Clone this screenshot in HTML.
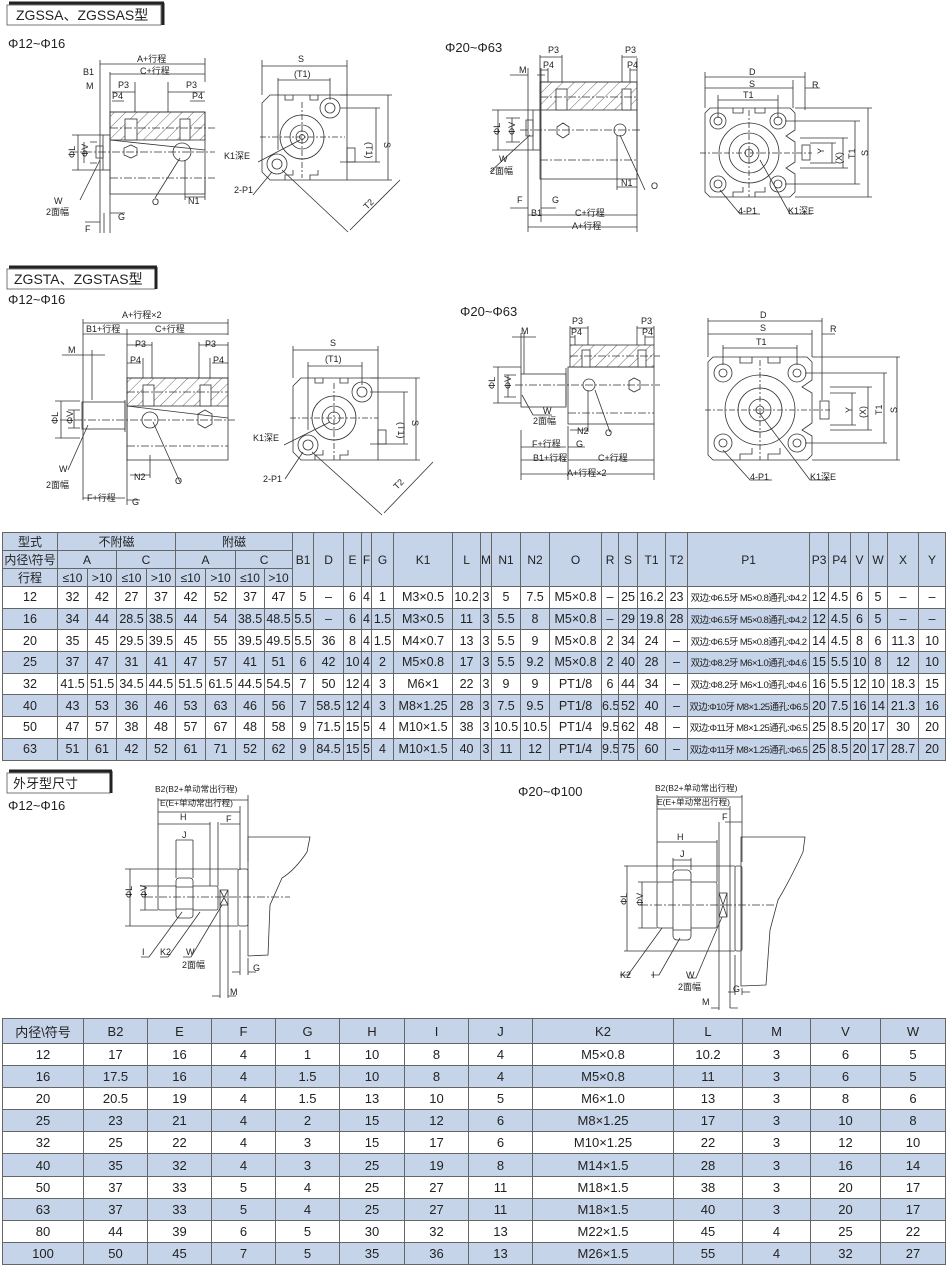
<!DOCTYPE html>
<html><head><meta charset="utf-8">
<style>
html,body{margin:0;padding:0;background:#fff;}
body{width:950px;height:1278px;position:relative;overflow:hidden;font-family:"Liberation Sans","Noto Sans CJK SC",sans-serif;}
svg{position:absolute;left:0;top:0;}
svg text{fill:#222;stroke:none;}
table{position:absolute;border-collapse:collapse;table-layout:fixed;font-family:"Liberation Sans","Noto Sans CJK SC",sans-serif;color:#222;}
td{border:1px solid #666;text-align:center;padding:0;white-space:nowrap;overflow:hidden;}
#t1{left:2px;top:532px;width:943px;font-size:12.5px;}
#t1 tr.h td{height:16px;background:#c6d4e9;font-size:12px;}
#t1 tr.d td{height:20.7px;}
#t1 tr.b td{background:#c6d4e9;}
#t1 td.p{font-size:9.5px;letter-spacing:-0.6px;}
#t2{left:2px;top:1018px;width:943px;font-size:13px;}
#t2 td{height:21.1px;}
#t2 tr.b td{background:#c6d4e9;}
#t2 tr.h td{height:24px;background:#c6d4e9;}
</style></head><body>
<svg width="950" height="1278" viewBox="0 0 950 1278" font-family="Liberation Sans, Noto Sans CJK SC, sans-serif" fill="none" stroke="#333" stroke-width="0.8">
<defs>
<pattern id="h" width="8" height="8" patternUnits="userSpaceOnUse" patternTransform="rotate(45)"><line x1="0" y1="0" x2="0" y2="8" stroke="#444" stroke-width="0.8"/></pattern>
</defs>
<!-- Section titles -->
<rect x="7" y="5" width="154" height="20" stroke="#555"/><path d="M163 3 V25 M9 3 H164" stroke="#222" stroke-width="3"/>
<text x="16" y="20" font-size="14">ZGSSA、ZGSSAS型</text>
<text x="8" y="48" font-size="13">Φ12~Φ16</text>
<text x="445" y="52" font-size="13">Φ20~Φ63</text>
<rect x="7" y="269" width="148" height="20" stroke="#555"/><path d="M156 267 V289 M9 267 H157" stroke="#222" stroke-width="3"/>
<text x="14" y="284" font-size="14">ZGSTA、ZGSTAS型</text>
<text x="8" y="304" font-size="13">Φ12~Φ16</text>
<text x="460" y="316" font-size="13">Φ20~Φ63</text>
<rect x="7" y="773" width="103" height="20" stroke="#555"/><path d="M111 771 V793 M9 771 H112" stroke="#222" stroke-width="3"/>
<text x="13" y="788" font-size="13">外牙型尺寸</text>
<text x="8" y="810" font-size="13">Φ12~Φ16</text>
<text x="518" y="796" font-size="13">Φ20~Φ100</text>

<g font-size="9">
<!-- D1: ZGSSA 12-16 side -->
<rect x="110" y="112" width="95" height="82"/>
<rect x="110" y="112" width="95" height="28" fill="url(#h)"/>
<rect x="125" y="119" width="12" height="21" fill="#fff"/><rect x="180" y="119" width="10" height="21" fill="#fff"/>
<path d="M110 140 L205 150" />
<rect x="103" y="135" width="7" height="35"/>
<path d="M96 146 h7 v12 h-7z"/>
<path d="M70 152 H215 M110 178 H215 M110 128 H215" stroke-dasharray="8 2 2 2"/>
<polygon points="124,148 131,145 137,148 137,155 131,158 124,155"/>
<circle cx="182" cy="152" r="9"/>
<path d="M100 60 V233 M110 72 V233 M205 58 V82 M100 64 H205 M110 74 H205 M110 80 V115 M135 82 V112 M112 92 H135 M112 101 H124 M168 82 V112 M205 92 H168 M205 101 H190"/>
<path d="M72 135 H103 M72 170 H103 M78 135 V170 M84 142 V163 M90 142 H97 M90 163 H97"/>
<path d="M80 200 L100 160 M155 198 L180 158 M185 160 V200 M205 180 V200 M185 197 H205 M100 222 H85 M110 213 H125 M104 213 V233"/>
<text x="137" y="62">A+行程</text><text x="140" y="74">C+行程</text>
<text x="83" y="75">B1</text><text x="86" y="89">M</text>
<text x="118" y="88">P3</text><text x="112" y="99">P4</text>
<text x="186" y="88">P3</text><text x="192" y="99">P4</text>
<text x="75" y="158" transform="rotate(-90 75 158)">ΦL</text><text x="88" y="157" transform="rotate(-90 88 157)">ΦV</text>
<text x="54" y="204">W</text><text x="46" y="215">2面幅</text>
<text x="152" y="205">O</text><text x="188" y="204">N1</text>
<text x="85" y="232">F</text><text x="118" y="220">G</text>

<!-- D2: end view 12-16 -->
<path d="M270 95 H347 V180 H270 L262 172 V103 Z"/>
<path d="M285 95 v5 h8 v-5 M310 95 v5 h8 v-5 M285 180 v-5 h8 v-5 M310 180 v-5 h8 v-5"/>
<circle cx="302" cy="137" r="22"/><circle cx="302" cy="137" r="12"/><circle cx="302" cy="137" r="6"/><circle cx="302" cy="137" r="2.5"/>
<circle cx="330" cy="108" r="10"/><circle cx="330" cy="108" r="5"/><circle cx="277" cy="164" r="10"/><circle cx="277" cy="164" r="5"/>
<rect x="347" y="148" width="8" height="14"/>
<path d="M262 60 V95 M347 60 V95 M262 66 H347 M278 78 V150 M330 78 V100 M278 80 H330 M340 95 H392 M340 108 H380 M340 162 H380 M347 180 H392 M388 95 V180 M376 108 V162 M282 170 L348 232 M400 180 L350 230"/>
<path d="M260 137 H345 M302 102 V178" stroke-dasharray="6 2 2 2"/>
<text x="298" y="62">S</text><text x="294" y="77">(T1)</text>
<text x="366" y="142" transform="rotate(90 366 142)">(T1)</text><text x="384" y="142" transform="rotate(90 384 142)">S</text>
<text x="367" y="210" transform="rotate(-45 367 210)">T2</text>
<text x="224" y="159">K1深E</text><text x="234" y="193">2-P1</text>
<path d="M258 162 L300 140 M253 195 L272 172"/>

<!-- D3: 20-63 side -->
<rect x="540" y="82" width="97" height="97"/>
<rect x="540" y="82" width="97" height="28" fill="url(#h)"/>
<rect x="556" y="89" width="11" height="21" fill="#fff"/><rect x="622" y="89" width="9" height="21" fill="#fff"/>
<rect x="533" y="110" width="7" height="40"/><path d="M526 120 h7 v16 h-7z"/>
<polygon points="557,127 563,123 569,127 569,134 563,138 557,134"/><circle cx="620" cy="130" r="6"/>
<path d="M520 130 H640 M540 160 H637 M540 97 H637" stroke-dasharray="8 2 2 2"/>
<path d="M528 68 V232 M541 68 V222 M637 58 V232 M540 55 V82 M562 55 V82 M540 57 H562 M548 68 V82 M540 70 H548 M622 55 V82 M637 57 H622 M630 68 V82 M637 70 H630 M510 75 H528 M537 75 H545"/>
<path d="M492 110 H533 M492 150 H533 M498 110 V150 M512 118 V142 M506 118 H520 M506 142 H520 M490 172 L530 135 M617 135 V190 M617 187 H637 M645 190 L620 135"/>
<path d="M510 208 H528 M541 208 H556 M528 215 H637 M528 227 H637"/>
<text x="548" y="53">P3</text><text x="543" y="68">P4</text>
<text x="625" y="53">P3</text><text x="627" y="68">P4</text>
<text x="519" y="73">M</text>
<text x="500" y="135" transform="rotate(-90 500 135)">ΦL</text><text x="515" y="135" transform="rotate(-90 515 135)">ΦV</text>
<text x="499" y="162">W</text><text x="490" y="174">2面幅</text>
<text x="621" y="186">N1</text><text x="651" y="189">O</text>
<text x="517" y="203">F</text><text x="552" y="203">G</text>
<text x="531" y="216">B1</text><text x="575" y="216">C+行程</text><text x="572" y="229">A+行程</text>

<!-- D4: end view 20-63 -->
<path d="M710 108 H790 L795 113 V130 L786 136 L795 142 V162 L786 168 L795 174 V192 L790 197 H710 L705 192 V113 Z"/>
<path d="M733 108 v5 h10 v-5 M755 108 v5 h10 v-5 M733 197 v-5 h10 v-5 M755 197 v-5 h10 v-5"/>
<circle cx="749" cy="153" r="30"/><circle cx="749" cy="153" r="20"/><circle cx="749" cy="153" r="10"/><circle cx="749" cy="153" r="4"/>
<circle cx="718" cy="121" r="8"/><circle cx="718" cy="121" r="4"/><circle cx="778" cy="121" r="8"/><circle cx="778" cy="121" r="4"/>
<circle cx="718" cy="184" r="8"/><circle cx="718" cy="184" r="4"/><circle cx="778" cy="184" r="8"/><circle cx="778" cy="184" r="4"/>
<rect x="802" y="145" width="8" height="15"/>
<path d="M705 72 V108 M805 72 V110 M793 80 V108 M705 77 H805 M705 88 H793 M718 95 V118 M778 95 V118 M718 100 H778 M805 88 H820 M795 108 H872 M785 121 H860 M785 184 H860 M795 197 H872 M868 108 V197 M855 121 V184 M800 138 H848 M800 168 H848 M843 138 V168 M810 143 H836 M810 163 H836 M832 143 V163"/>
<path d="M700 153 H812 M749 110 V197" stroke-dasharray="6 2 2 2"/>
<path d="M720 190 L740 214 H760 M760 160 L790 214 H812"/>
<text x="749" y="75">D</text><text x="749" y="87">S</text><text x="743" y="98">T1</text><text x="812" y="88">R</text>
<text x="820" y="150" transform="rotate(-90 824 150)">Y</text>
<text x="836" y="162" transform="rotate(-90 840 160)">(X)</text>
<text x="850" y="158" transform="rotate(-90 853 156)">T1</text>
<text x="864" y="156" transform="rotate(-90 866 154)">S</text>
<text x="738" y="214">4-P1</text><text x="788" y="214">K1深E</text>

<!-- D5: ZGSTA 12-16 -->
<rect x="127" y="378" width="101" height="82"/>
<rect x="127" y="378" width="101" height="28" fill="url(#h)"/>
<rect x="143" y="385" width="11" height="21" fill="#fff"/><rect x="200" y="385" width="11" height="21" fill="#fff"/>
<path d="M127 406 L228 418"/>
<rect x="82" y="402" width="43" height="27"/><path d="M125 400 V432"/>
<circle cx="150" cy="420" r="8"/><polygon points="198,414 205,410 212,414 212,424 205,428 198,424"/>
<path d="M60 420 H235 M127 446 H228 M127 392 H228" stroke-dasharray="8 2 2 2"/>
<path d="M83 319 V500 M127 329 V505 M228 319 V335 M83 323 H228 M83 334 H228 M127 345 H152 M152 342 V378 M199 342 V378 M199 345 H228 M127 363 H141 M143 358 V378 M210 358 V378 M228 363 H212 M228 342 V378 M62 355 H105 M92 350 V400"/>
<path d="M55 401 H80 M55 438 H80 M61 401 V438 M74 410 V428 M68 410 H80 M68 428 H80 M68 470 L88 425 M150 455 V478 M130 475 H150 M180 482 L153 422 M83 498 H125 M127 500 H140"/>
<text x="122" y="318">A+行程×2</text><text x="86" y="332">B1+行程</text><text x="155" y="332">C+行程</text>
<text x="135" y="347">P3</text><text x="205" y="347">P3</text><text x="130" y="363">P4</text><text x="213" y="363">P4</text>
<text x="68" y="353">M</text>
<text x="58" y="424" transform="rotate(-90 58 424)">ΦL</text><text x="73" y="424" transform="rotate(-90 73 424)">ΦV</text>
<text x="59" y="472">W</text><text x="46" y="488">2面幅</text>
<text x="134" y="480">N2</text><text x="175" y="484">O</text>
<text x="87" y="501">F+行程</text><text x="132" y="505">G</text>

<!-- D6: end view ZGSTA 12-16 -->
<path d="M301 378 H378 V460 H301 L293 452 V386 Z"/>
<path d="M315 378 v5 h8 v-5 M340 378 v5 h8 v-5 M315 460 v-5 h8 v-5 M340 460 v-5 h8 v-5"/>
<circle cx="334" cy="418" r="22"/><circle cx="334" cy="418" r="12"/><circle cx="334" cy="418" r="6"/>
<circle cx="362" cy="392" r="10"/><circle cx="362" cy="392" r="5"/><circle cx="308" cy="445" r="10"/><circle cx="308" cy="445" r="5"/>
<rect x="378" y="430" width="8" height="14"/>
<path d="M293 346 V378 M378 346 V378 M293 350 H378 M308 362 V430 M362 362 V385 M308 366 H362 M370 378 H420 M370 392 H408 M370 444 H408 M378 460 H420 M416 378 V460 M404 392 V444 M312 452 L382 515 M433 462 L384 513"/>
<path d="M290 418 H378 M334 383 V460" stroke-dasharray="6 2 2 2"/>
<text x="330" y="346">S</text><text x="325" y="362">(T1)</text>
<text x="398" y="422" transform="rotate(90 398 422)">(T1)</text><text x="412" y="420" transform="rotate(90 412 420)">S</text>
<text x="397" y="490" transform="rotate(-45 397 490)">T2</text>
<text x="253" y="441">K1深E</text><text x="263" y="482">2-P1</text>
<path d="M284 445 L330 422 M285 479 L303 452"/>

<!-- D7: ZGSTA 20-63 -->
<rect x="568" y="367" width="86" height="57"/>
<rect x="570" y="345" width="84" height="22" fill="url(#h)"/>
<rect x="582" y="350" width="8" height="17" fill="#fff"/><rect x="638" y="350" width="8" height="17" fill="#fff"/>
<rect x="521" y="374" width="45" height="33"/><path d="M566 368 V405"/>
<circle cx="589" cy="385" r="6"/><polygon points="629,381 634,378 640,381 640,389 634,392 629,389"/>
<path d="M515 385 H660 M568 413 H654 M570 356 H660" stroke-dasharray="8 2 2 2"/>
<path d="M570 326 V345 M588 326 V345 M570 328 H588 M575 335 V345 M570 337 H575 M637 326 V345 M654 326 V345 M637 328 H654 M645 335 V345 M654 337 H645 M512 337 H536 M521 333 V374 M524 333 V374"/>
<path d="M493 367 H521 M493 403 H521 M498 367 V403 M508 375 V397 M504 375 H516 M504 397 H516 M522 395 L533 415 H552 M588 390 V432 M570 430 H588 M595 390 L610 432"/>
<path d="M521 430 V480 M568 426 V480 M654 424 V480 M521 447 H566 M521 460 H566 M568 460 H654 M521 474 H654 M568 447 H585"/>
<text x="572" y="324">P3</text><text x="641" y="324">P3</text><text x="571" y="335">P4</text><text x="642" y="335">P4</text>
<text x="521" y="334">M</text>
<text x="495" y="389" transform="rotate(-90 495 389)">ΦL</text><text x="511" y="389" transform="rotate(-90 511 389)">ΦV</text>
<text x="543" y="414">W</text><text x="533" y="424">2面幅</text>
<text x="577" y="434">N2</text><text x="605" y="436">O</text>
<text x="532" y="447">F+行程</text><text x="576" y="447">G</text>
<text x="533" y="461">B1+行程</text><text x="598" y="461">C+行程</text><text x="567" y="476">A+行程×2</text>

<!-- D8: end view 20-63 ZGSTA -->
<path d="M713 357 H807 L812 362 V380 L802 387 L812 393 V423 L802 430 L812 436 V455 L807 460 H713 L708 455 V362 Z"/>
<path d="M740 357 v6 h12 v-6 M768 357 v6 h12 v-6 M740 460 v-6 h12 v-6 M768 460 v-6 h12 v-6"/>
<circle cx="760" cy="410" r="35"/><circle cx="760" cy="410" r="22"/><circle cx="760" cy="410" r="11"/><circle cx="760" cy="410" r="4"/>
<circle cx="723" cy="373" r="9"/><circle cx="723" cy="373" r="4"/><circle cx="797" cy="373" r="9"/><circle cx="797" cy="373" r="4"/>
<circle cx="723" cy="443" r="9"/><circle cx="723" cy="443" r="4"/><circle cx="797" cy="443" r="9"/><circle cx="797" cy="443" r="4"/>
<rect x="820" y="401" width="9" height="18"/>
<path d="M708 318 V357 M822 318 V400 M812 330 V357 M708 321 H822 M708 334 H812 M723 345 V365 M797 345 V365 M723 348 H797 M822 334 H835 M812 357 H900 M805 373 H887 M805 443 H887 M812 460 H900 M897 357 V460 M884 373 V443 M830 387 H872 M830 430 H872 M868 387 V430 M830 393 H856 M830 425 H856 M852 393 V425"/>
<path d="M705 410 H830 M760 360 V460" stroke-dasharray="6 2 2 2"/>
<path d="M723 450 L750 480 H772 M760 414 L810 480 H830"/>
<text x="760" y="318">D</text><text x="760" y="331">S</text><text x="756" y="345">T1</text><text x="830" y="332">R</text>
<text x="848" y="413" transform="rotate(-90 850 411)">Y</text>
<text x="862" y="418" transform="rotate(-90 864 416)">(X)</text>
<text x="878" y="415" transform="rotate(-90 880 413)">T1</text>
<text x="893" y="413" transform="rotate(-90 895 411)">S</text>
<text x="750" y="480">4-P1</text><text x="810" y="480">K1深E</text>

<!-- D9: external thread 12-16 -->
<path d="M248 837 H310 L307 852 Q295 870 282 878 L270 905 L268 955 L248 956 Z"/>
<rect x="238" y="869" width="10" height="57" rx="2"/>
<path d="M125 869 H238 M125 926 H238"/>
<rect x="158" y="886" width="60" height="24" rx="2"/>
<rect x="176" y="878" width="17" height="40" rx="3" fill="#fff"/>
<path d="M176 887 H193 M176 909 H193 M176 840 V878 M193 840 V878"/>
<rect x="220" y="890" width="8" height="15"/><path d="M220 890 L228 905 M228 890 L220 905"/>
<path d="M145 897 H290" stroke-dasharray="8 2 2 2"/>
<path d="M158 798 V886 M248 795 V862 M240 806 V870 M158 800 H248 M158 812 H240 M210 822 V886 M158 824 H210 M218 822 V886 M220 824 H240 M176 840 H193 M130 869 V926 M145 886 V910 M140 886 H158 M140 910 H158 M220 905 V998 M228 905 V998 M212 996 H220 M228 996 H236 M240 930 V975 M248 958 V975 M232 972 H240 M248 972 H256"/>
<path d="M141 957 H149 L182 912 M160 957 H168 L200 912 M183 957 H191 L222 905"/>
<text x="155" y="792" font-size="8.5">B2(B2+单动常出行程)</text>
<text x="160" y="806" font-size="8.5">E(E+单动常出行程)</text>
<text x="180" y="820">H</text><text x="182" y="838">J</text><text x="226" y="822">F</text>
<text x="127" y="903" transform="rotate(-90 127 898)">ΦL</text><text x="142" y="903" transform="rotate(-90 142 898)">ΦV</text>
<text x="142" y="955">I</text><text x="160" y="955">K2</text><text x="186" y="955">W</text><text x="182" y="968">2面幅</text>
<text x="253" y="971">G</text><text x="230" y="995">M</text>

<!-- D10: external thread 20-100 -->
<path d="M741 837 H805 L803 852 Q790 880 778 900 L770 930 L766 985 L741 986 Z"/>
<rect x="735" y="866" width="7" height="85" rx="2"/>
<path d="M624 866 H735 M624 951 H735"/>
<rect x="657" y="882" width="60" height="46" rx="2"/>
<rect x="673" y="870" width="18" height="70" rx="4" fill="#fff"/>
<path d="M673 880 H691 M673 930 H691"/>
<rect x="719" y="893" width="8" height="24"/><path d="M719 893 L727 917 M727 893 L719 917"/>
<path d="M640 905 H775" stroke-dasharray="8 2 2 2"/>
<path d="M657 795 V882 M742 795 V862 M730 806 V1008 M657 797 H742 M657 809 H730 M717 840 V882 M657 842 H717 M673 858 V870 M691 858 V870 M673 860 H691 M719 822 V1010 M627 866 V951 M642 882 V928 M638 882 H657 M638 928 H657 M735 955 V995 M742 988 V995 M728 992 H735 M742 992 H750 M711 1008 H719 M730 1008 H738 M725 822 H742"/>
<path d="M620 975 H628 L662 928 M651 975 H659 L680 938 M688 978 H696 L722 917"/>
<text x="655" y="791" font-size="8.5">B2(B2+单动常出行程)</text>
<text x="657" y="805" font-size="8.5">E(E+单动常出行程)</text>
<text x="677" y="840">H</text><text x="680" y="857">J</text><text x="722" y="820">F</text>
<text x="625" y="913" transform="rotate(-90 622 908)">ΦL</text><text x="640" y="913" transform="rotate(-90 638 908)">ΦV</text>
<text x="620" y="978">K2</text><text x="652" y="978">I</text><text x="686" y="978">W</text><text x="678" y="990">2面幅</text>
<text x="733" y="992">G</text><text x="702" y="1005">M</text>
</g>
</svg>

<table id="t1">
<colgroup>
<col style="width:55px"><col style="width:30px"><col style="width:29px"><col style="width:30px"><col style="width:29px"><col style="width:30px"><col style="width:30px"><col style="width:29px"><col style="width:28px">
<col style="width:21px"><col style="width:30px"><col style="width:18px"><col style="width:10px"><col style="width:22px"><col style="width:59px"><col style="width:28px"><col style="width:11px"><col style="width:29px"><col style="width:29px"><col style="width:52px"><col style="width:17px"><col style="width:19px"><col style="width:28px"><col style="width:22px"><col style="width:122px"><col style="width:19px"><col style="width:22px"><col style="width:18px"><col style="width:19px"><col style="width:31px"><col style="width:27px">
</colgroup>
<tr class="h"><td>型式</td><td colspan="4">不附磁</td><td colspan="4">附磁</td><td rowspan="3">B1</td><td rowspan="3">D</td><td rowspan="3">E</td><td rowspan="3">F</td><td rowspan="3">G</td><td rowspan="3">K1</td><td rowspan="3">L</td><td rowspan="3">M</td><td rowspan="3">N1</td><td rowspan="3">N2</td><td rowspan="3">O</td><td rowspan="3">R</td><td rowspan="3">S</td><td rowspan="3">T1</td><td rowspan="3">T2</td><td rowspan="3">P1</td><td rowspan="3">P3</td><td rowspan="3">P4</td><td rowspan="3">V</td><td rowspan="3">W</td><td rowspan="3">X</td><td rowspan="3">Y</td></tr>
<tr class="h"><td>内径\符号</td><td colspan="2">A</td><td colspan="2">C</td><td colspan="2">A</td><td colspan="2">C</td></tr>
<tr class="h"><td>行程</td><td>≤10</td><td>&gt;10</td><td>≤10</td><td>&gt;10</td><td>≤10</td><td>&gt;10</td><td>≤10</td><td>&gt;10</td></tr>
<tr class="d"><td>12</td><td>32</td><td>42</td><td>27</td><td>37</td><td>42</td><td>52</td><td>37</td><td>47</td><td>5</td><td>–</td><td>6</td><td>4</td><td>1</td><td>M3×0.5</td><td>10.2</td><td>3</td><td>5</td><td>7.5</td><td>M5×0.8</td><td>–</td><td>25</td><td>16.2</td><td>23</td><td class="p">双边:Φ6.5牙 M5×0.8通孔:Φ4.2</td><td>12</td><td>4.5</td><td>6</td><td>5</td><td>–</td><td>–</td></tr>
<tr class="d b"><td>16</td><td>34</td><td>44</td><td>28.5</td><td>38.5</td><td>44</td><td>54</td><td>38.5</td><td>48.5</td><td>5.5</td><td>–</td><td>6</td><td>4</td><td>1.5</td><td>M3×0.5</td><td>11</td><td>3</td><td>5.5</td><td>8</td><td>M5×0.8</td><td>–</td><td>29</td><td>19.8</td><td>28</td><td class="p">双边:Φ6.5牙 M5×0.8通孔:Φ4.2</td><td>12</td><td>4.5</td><td>6</td><td>5</td><td>–</td><td>–</td></tr>
<tr class="d"><td>20</td><td>35</td><td>45</td><td>29.5</td><td>39.5</td><td>45</td><td>55</td><td>39.5</td><td>49.5</td><td>5.5</td><td>36</td><td>8</td><td>4</td><td>1.5</td><td>M4×0.7</td><td>13</td><td>3</td><td>5.5</td><td>9</td><td>M5×0.8</td><td>2</td><td>34</td><td>24</td><td>–</td><td class="p">双边:Φ6.5牙 M5×0.8通孔:Φ4.2</td><td>14</td><td>4.5</td><td>8</td><td>6</td><td>11.3</td><td>10</td></tr>
<tr class="d b"><td>25</td><td>37</td><td>47</td><td>31</td><td>41</td><td>47</td><td>57</td><td>41</td><td>51</td><td>6</td><td>42</td><td>10</td><td>4</td><td>2</td><td>M5×0.8</td><td>17</td><td>3</td><td>5.5</td><td>9.2</td><td>M5×0.8</td><td>2</td><td>40</td><td>28</td><td>–</td><td class="p">双边:Φ8.2牙 M6×1.0通孔:Φ4.6</td><td>15</td><td>5.5</td><td>10</td><td>8</td><td>12</td><td>10</td></tr>
<tr class="d"><td>32</td><td>41.5</td><td>51.5</td><td>34.5</td><td>44.5</td><td>51.5</td><td>61.5</td><td>44.5</td><td>54.5</td><td>7</td><td>50</td><td>12</td><td>4</td><td>3</td><td>M6×1</td><td>22</td><td>3</td><td>9</td><td>9</td><td>PT1/8</td><td>6</td><td>44</td><td>34</td><td>–</td><td class="p">双边:Φ8.2牙 M6×1.0通孔:Φ4.6</td><td>16</td><td>5.5</td><td>12</td><td>10</td><td>18.3</td><td>15</td></tr>
<tr class="d b"><td>40</td><td>43</td><td>53</td><td>36</td><td>46</td><td>53</td><td>63</td><td>46</td><td>56</td><td>7</td><td>58.5</td><td>12</td><td>4</td><td>3</td><td>M8×1.25</td><td>28</td><td>3</td><td>7.5</td><td>9.5</td><td>PT1/8</td><td>6.5</td><td>52</td><td>40</td><td>–</td><td class="p">双边:Φ10牙 M8×1.25通孔:Φ6.5</td><td>20</td><td>7.5</td><td>16</td><td>14</td><td>21.3</td><td>16</td></tr>
<tr class="d"><td>50</td><td>47</td><td>57</td><td>38</td><td>48</td><td>57</td><td>67</td><td>48</td><td>58</td><td>9</td><td>71.5</td><td>15</td><td>5</td><td>4</td><td>M10×1.5</td><td>38</td><td>3</td><td>10.5</td><td>10.5</td><td>PT1/4</td><td>9.5</td><td>62</td><td>48</td><td>–</td><td class="p">双边:Φ11牙 M8×1.25通孔:Φ6.5</td><td>25</td><td>8.5</td><td>20</td><td>17</td><td>30</td><td>20</td></tr>
<tr class="d b"><td>63</td><td>51</td><td>61</td><td>42</td><td>52</td><td>61</td><td>71</td><td>52</td><td>62</td><td>9</td><td>84.5</td><td>15</td><td>5</td><td>4</td><td>M10×1.5</td><td>40</td><td>3</td><td>11</td><td>12</td><td>PT1/4</td><td>9.5</td><td>75</td><td>60</td><td>–</td><td class="p">双边:Φ11牙 M8×1.25通孔:Φ6.5</td><td>25</td><td>8.5</td><td>20</td><td>17</td><td>28.7</td><td>20</td></tr>
</table>

<table id="t2">
<colgroup><col style="width:81px"><col style="width:64px"><col style="width:64px"><col style="width:64px"><col style="width:64px"><col style="width:65px"><col style="width:64px"><col style="width:64px"><col style="width:141px"><col style="width:69px"><col style="width:68px"><col style="width:70px"><col style="width:65px"></colgroup>
<tr class="h"><td>内径\符号</td><td>B2</td><td>E</td><td>F</td><td>G</td><td>H</td><td>I</td><td>J</td><td>K2</td><td>L</td><td>M</td><td>V</td><td>W</td></tr>
<tr><td>12</td><td>17</td><td>16</td><td>4</td><td>1</td><td>10</td><td>8</td><td>4</td><td>M5×0.8</td><td>10.2</td><td>3</td><td>6</td><td>5</td></tr>
<tr class="b"><td>16</td><td>17.5</td><td>16</td><td>4</td><td>1.5</td><td>10</td><td>8</td><td>4</td><td>M5×0.8</td><td>11</td><td>3</td><td>6</td><td>5</td></tr>
<tr><td>20</td><td>20.5</td><td>19</td><td>4</td><td>1.5</td><td>13</td><td>10</td><td>5</td><td>M6×1.0</td><td>13</td><td>3</td><td>8</td><td>6</td></tr>
<tr class="b"><td>25</td><td>23</td><td>21</td><td>4</td><td>2</td><td>15</td><td>12</td><td>6</td><td>M8×1.25</td><td>17</td><td>3</td><td>10</td><td>8</td></tr>
<tr><td>32</td><td>25</td><td>22</td><td>4</td><td>3</td><td>15</td><td>17</td><td>6</td><td>M10×1.25</td><td>22</td><td>3</td><td>12</td><td>10</td></tr>
<tr class="b"><td>40</td><td>35</td><td>32</td><td>4</td><td>3</td><td>25</td><td>19</td><td>8</td><td>M14×1.5</td><td>28</td><td>3</td><td>16</td><td>14</td></tr>
<tr><td>50</td><td>37</td><td>33</td><td>5</td><td>4</td><td>25</td><td>27</td><td>11</td><td>M18×1.5</td><td>38</td><td>3</td><td>20</td><td>17</td></tr>
<tr class="b"><td>63</td><td>37</td><td>33</td><td>5</td><td>4</td><td>25</td><td>27</td><td>11</td><td>M18×1.5</td><td>40</td><td>3</td><td>20</td><td>17</td></tr>
<tr><td>80</td><td>44</td><td>39</td><td>6</td><td>5</td><td>30</td><td>32</td><td>13</td><td>M22×1.5</td><td>45</td><td>4</td><td>25</td><td>22</td></tr>
<tr class="b"><td>100</td><td>50</td><td>45</td><td>7</td><td>5</td><td>35</td><td>36</td><td>13</td><td>M26×1.5</td><td>55</td><td>4</td><td>32</td><td>27</td></tr>
</table>
</body></html>
